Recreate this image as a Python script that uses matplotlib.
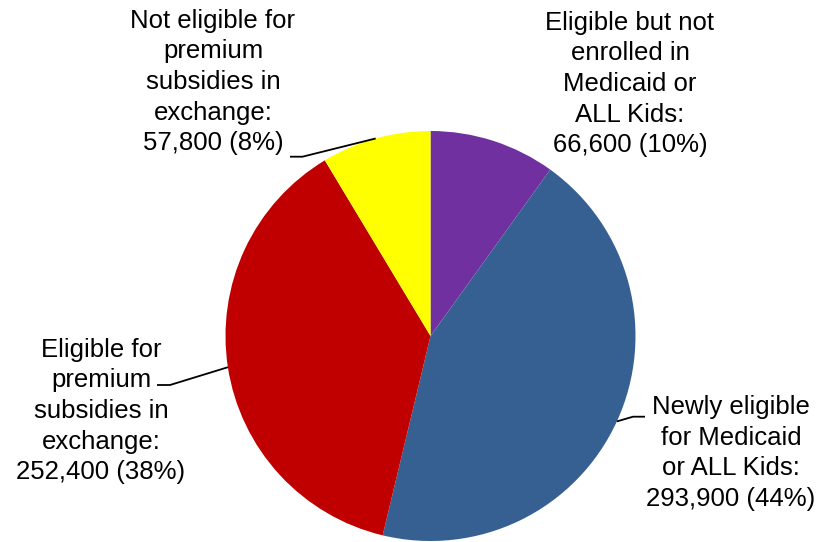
import matplotlib.pyplot as plt
import numpy as np

plt.rcParams['font.family'] = ['Liberation Sans', 'DejaVu Sans']

labels = ["Eligible but not\nenrolled in\nMedicaid or\nALL Kids:",
          "Newly eligible\nfor Medicaid\nor ALL Kids:",
          "Eligible for\npremium\nsubsidies in\nexchange:",
          "Not eligible for\npremium\nsubsidies in\nexchange:"]
values = [66600, 293900, 252400, 57800]
pcts = [10, 44, 38, 8]
colors = ['#7030A0', '#376092', '#C00000', '#FFFF00']

W, H = 820, 542
fig = plt.figure(figsize=(W / 100, H / 100), dpi=100)
ax = fig.add_axes([0, 0, 1, 1])

cx, cy, r = 430.5, H - 336, 205
wedges, _ = ax.pie(values, colors=colors, startangle=90, counterclock=False,
                   center=(cx, cy), radius=r, frame=True)
ax.set_xlim(0, W)
ax.set_ylim(0, H)
ax.set_aspect('equal')
ax.axis('off')

# text centres (pixel coords, y from top) and leader elbows
text_pos = [(630, 84), (731, 453), (101, 411), (213, 82)]
elbows = [None,
          [(633, 416.7), (645, 416.7)],
          [(170, 385), (157, 385)],
          [(302.5, 156.7), (290, 156.7)]]

for i, w in enumerate(wedges):
    txt = "%s\n%s (%d%%)" % (labels[i], format(values[i], ','), pcts[i])
    tx, ty = text_pos[i]
    ax.text(tx, H - ty, txt, ha='center', va='center', multialignment='center',
            fontsize=18.5, linespacing=1.35, color='black')
    if elbows[i] is not None:
        ang = np.deg2rad((w.theta1 + w.theta2) / 2)
        ex, ey = cx + r * np.cos(ang), cy + r * np.sin(ang)
        xs = [ex] + [p[0] for p in elbows[i]]
        ys = [ey] + [H - p[1] for p in elbows[i]]
        ax.plot(xs, ys, color='black', lw=1.3, solid_capstyle='butt')

fig.savefig('out.png', dpi=100, facecolor='white')
